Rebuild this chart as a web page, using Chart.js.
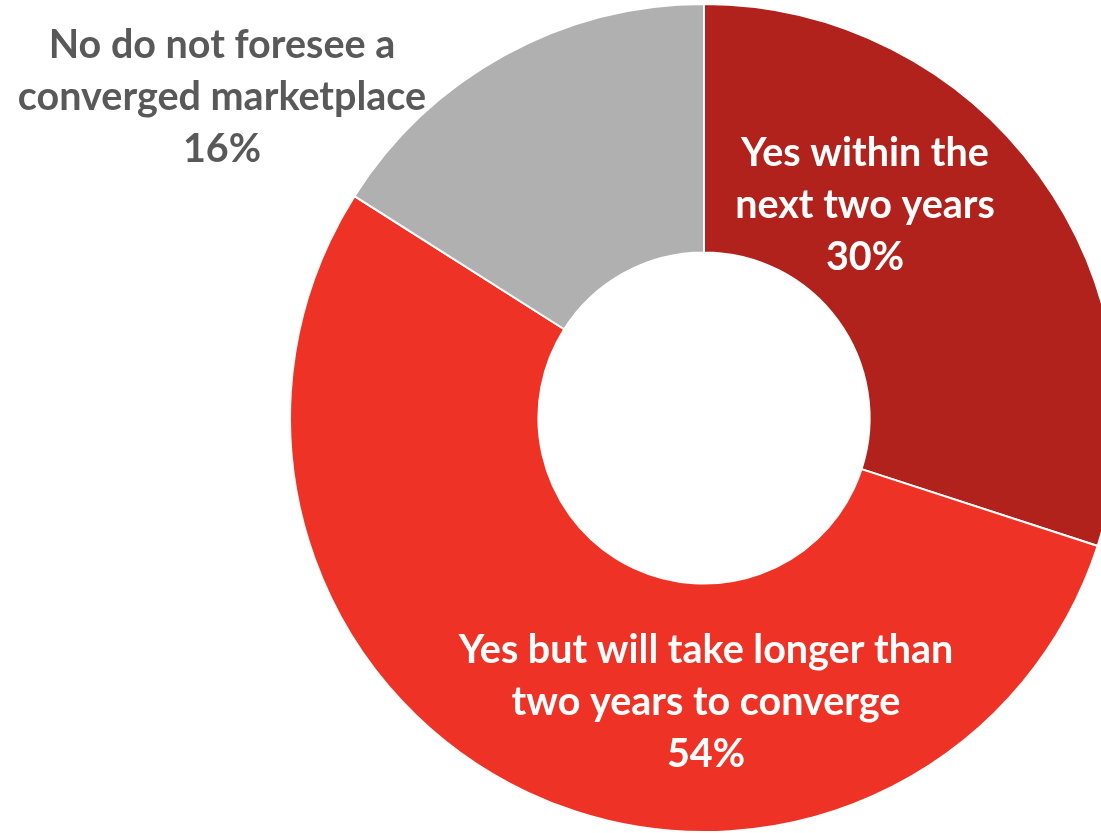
<!DOCTYPE html>
<html>
<head>
<meta charset="utf-8">
<script src="https://cdn.jsdelivr.net/npm/chart.js@4.4.1/dist/chart.umd.min.js"></script>
<style>
    html, body { margin: 0; padding: 0; background: #ffffff; overflow: hidden; }
    #wrap { position: relative; width: 1200px; height: 833px; }
</style>
</head>
<body>
<div id="wrap"><canvas id="donut" width="1200" height="833"></canvas></div>
<script>
// Datos del gráfico
const categories = [
    ["Yes within the", "next two years"],
    ["Yes but will take longer than", "two years to converge"],
    ["No do not foresee a", "converged marketplace"]
];
const shares = [30, 54, 16];
const sliceColors = ["#B0221B", "#EE3326", "#B0B0B0"];
const labelColors = ["#FFFFFF", "#FFFFFF", "#595959"];

// Desplazamiento de cada etiqueta respecto al centro del anillo (px)
const labelOffsets = [[161, -213], [2, 284], [-482, -321]];

// Plugin sencillo para dibujar las etiquetas de cada sector
const sliceLabels = {
    id: "sliceLabels",
    afterDatasetsDraw(chart) {
        const ctx = chart.ctx;
        const arcs = chart.getDatasetMeta(0).data;
        ctx.save();
        ctx.font = "bold 39.5px Lato";
        ctx.textAlign = "center";
        ctx.textBaseline = "middle";
        arcs.forEach((arc, i) => {
            const lines = categories[i].concat([shares[i] + "%"]);
            const cx = arc.x + labelOffsets[i][0];
            const cy = arc.y + labelOffsets[i][1];
            ctx.fillStyle = labelColors[i];
            lines.forEach((line, j) => {
                ctx.fillText(line, cx, cy + (j - 1) * 52);
            });
        });
        ctx.restore();
    }
};

new Chart(document.getElementById("donut").getContext("2d"), {
    type: "doughnut",
    data: {
        labels: categories.map(c => c.join(" ")),
        datasets: [{
            data: shares,
            backgroundColor: sliceColors,
            borderColor: "#FFFFFF",
            borderWidth: 2
        }]
    },
    options: {
        responsive: false,
        animation: false,
        cutout: "40%",
        layout: { padding: { left: 289, right: 81, top: 3, bottom: 0 } },
        plugins: {
            legend: { display: false },
            tooltip: { enabled: false }
        }
    },
    plugins: [sliceLabels]
});
</script>
</body>
</html>
